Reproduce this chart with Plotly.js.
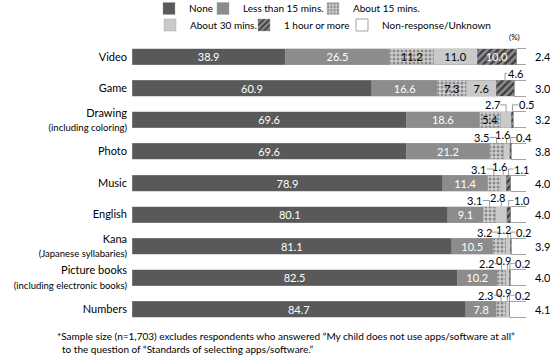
<!DOCTYPE html>
<html>
<head>
<meta charset="utf-8">
<script src="https://cdn.plot.ly/plotly-3.0.1.min.js"></script>
<style>html,body{margin:0;padding:0;background:#fff}#chart{width:550px;height:355px}</style>
</head>
<body>
<div id="chart"></div>
<script>
// ---- data ----
var categories = ["Video","Game","Drawing","Photo","Music","English","Kana","Picture books","Numbers"];
var subLabels = ["","","(including coloring)","","","","(Japanese syllabaries)","(including electronic books)",""];
var seriesNames = ["None","Less than 15 mins.","About 15 mins.","About 30 mins.","1 hour or more","Non-response/Unknown"];
var none      = [38.9, 60.9, 69.6, 69.6, 78.9, 80.1, 81.1, 82.5, 84.7];
var lt15      = [26.5, 16.6, 18.6, 21.2, 11.4,  9.1, 10.5, 10.2,  7.8];
var about15   = [11.2,  7.3,  5.4,  3.5,  3.1,  3.1,  3.2,  2.2,  2.3];
var about30   = [11.0,  7.6,  2.7,  1.6,  1.6,  2.8,  1.2,  0.9,  0.9];
var hourPlus  = [10.0,  4.6,  0.5,  0.4,  1.1,  1.0,  0.2,  0.2,  0.2];
var nonResp   = [ 2.4,  3.0,  3.2,  3.8,  4.0,  4.0,  3.9,  4.0,  4.1];
var seriesValues = [none, lt15, about15, about30, hourPlus, nonResp];

// ---- styles ----
var FONT = "Lato, 'Liberation Sans', sans-serif";
var INSIDE_MIN = 5;
var styles = [
  {color:"#595959", text:"#ffffff"},
  {color:"#8c8c8c", text:"#ffffff"},
  {color:"#c4c4c4", text:"#000000", pattern:{shape:".", fgcolor:"#8a8a8a", bgcolor:"#d0d0d0", size:4, solidity:0.45}},
  {color:"#cacaca", text:"#000000"},
  {color:"#6a6a6a", text:"#ffffff", pattern:{shape:"/", fgcolor:"#3c3c3c", bgcolor:"#8a8a8a", size:5, solidity:0.45}},
  {color:"#ffffff", text:"#000000", line:"#8c8c8c"}
];
// legend placement (paper coords), one legend per entry
var legendPos = [[0.0431,1.1655],[0.1802,1.1655],[0.4594,1.1655],[0.0457,1.1074],[0.2843,1.1074],[0.5330,1.1074]];
var outsideOffsets = {1:[[10,7]], 2:[[-14,7],[14,7]], 3:[[-15,6],[-4,9],[13,6]]};
var HALF_BAR = 8;

var ticktext = categories.map(function(c,i){
  return subLabels[i] ? c + '<br><span style="font-size:9.5px">' + subLabels[i] + '</span>' : c;
});

var traces = seriesValues.map(function(vals, s){
  var st = styles[s];
  var marker = {color: st.color, line:{color: st.line || "#a0a0a0", width: st.line ? 0.8 : 0.4}};
  if (st.pattern) marker.pattern = st.pattern;
  return {
    type:"bar", orientation:"h", name: seriesNames[s],
    y: categories, x: vals,
    text: vals.map(function(v){ return (s < 5 && v >= INSIDE_MIN) ? v.toFixed(1) : ""; }),
    textposition:"inside", insidetextanchor:"middle", constraintext:"none", textangle:0,
    textfont:{family:FONT, size:11, color: st.text},
    marker: marker, hoverinfo:"skip",
    legend: s === 0 ? "legend" : "legend" + (s + 1)
  };
});

var annotations = [], shapes = [];
var lineStyle = {color:"#808080", width:0.8};
categories.forEach(function(cat, r){
  var cum = 0, outs = [];
  seriesValues.forEach(function(vals, s){
    var v = vals[r];
    if (s >= 2 && s <= 4 && v < INSIDE_MIN) outs.push({v:v, c:cum + v/2});
    cum += v;
  });
  var offs = outsideOffsets[outs.length] || [];
  outs.forEach(function(o, k){
    var dx = offs[k][0], h = offs[k][1];
    annotations.push({x:o.c, y:r, xref:"x", yref:"y", text:o.v.toFixed(1), showarrow:false,
      xshift:dx, yshift:HALF_BAR + h, font:{family:FONT, size:11, color:"#000"}});
    if (Math.abs(dx) < 8) {
      shapes.push({type:"line", xref:"x", yref:"y", xsizemode:"pixel", ysizemode:"pixel",
        xanchor:o.c, yanchor:r, x0:0, x1:0, y0:HALF_BAR, y1:HALF_BAR + h - 4, line:lineStyle});
    } else {
      var edge = dx - Math.sign(dx)*8;
      shapes.push({type:"path", xref:"x", yref:"y", xsizemode:"pixel", ysizemode:"pixel",
        xanchor:o.c, yanchor:r, path:"M0," + HALF_BAR + " L0," + (HALF_BAR+h) + " L" + edge + "," + (HALF_BAR+h), line:lineStyle});
    }
  });
  // non-response label on right
  annotations.push({x:100, y:r, xref:"x", yref:"y", text:nonResp[r].toFixed(1), showarrow:false,
    xanchor:"left", xshift:7, font:{family:FONT, size:11, color:"#000"}});
  shapes.push({type:"line", xref:"x", yref:"y", xsizemode:"pixel", xanchor:100, x0:0, x1:8,
    y0:r, y1:r, line:lineStyle});
});

annotations.push({xref:"paper", yref:"paper", x:1, y:1, xanchor:"right", yanchor:"bottom", xshift:-4, yshift:-3,
  text:"(%)", showarrow:false, font:{family:FONT, size:8, color:"#000"}});
annotations.push({xref:"paper", yref:"paper", x:-0.196, y:0, xanchor:"left", yanchor:"top", yshift:-3, align:"left",
  text:"*Sample size (n=1,703) excludes respondents who answered \u201cMy child does not use apps/software at all\u201d",
  showarrow:false, font:{family:FONT, size:10, color:"#000"}});
annotations.push({xref:"paper", yref:"paper", x:-0.183, y:0, xanchor:"left", yanchor:"top", yshift:-15.5, align:"left",
  text:"to the question of \u201cStandards of selecting apps/software.\u201d",
  showarrow:false, font:{family:FONT, size:10, color:"#000"}});

var layout = {
  width:550, height:355,
  margin:{l:132, r:24, t:41, b:30, autoexpand:false},
  paper_bgcolor:"#fff", plot_bgcolor:"#fff",
  barmode:"stack", bargap:0.493,
  font:{family:FONT, size:11, color:"#000"},
  xaxis:{range:[0,100], autorange:false, visible:false, fixedrange:true},
  yaxis:{type:"category", autorange:false, range:[categories.length - 0.5, -0.5],
    tickvals:categories, ticktext:ticktext,
    showgrid:false, zeroline:false, showline:false, ticks:"", ticklabelstandoff:4,
    tickfont:{family:FONT, size:11, color:"#000"}},
  showlegend:true,
  annotations:annotations, shapes:shapes
};
legendPos.forEach(function(p, i){
  layout[i === 0 ? "legend" : "legend" + (i + 1)] = {
    orientation:"h", x:p[0], y:p[1], xanchor:"left", yanchor:"top",
    bgcolor:"rgba(0,0,0,0)", font:{family:FONT, size:10, color:"#000"}, itemwidth:30
  };
});

Plotly.newPlot("chart", traces, layout, {displayModeBar:false, staticPlot:true});
</script>
</body>
</html>
